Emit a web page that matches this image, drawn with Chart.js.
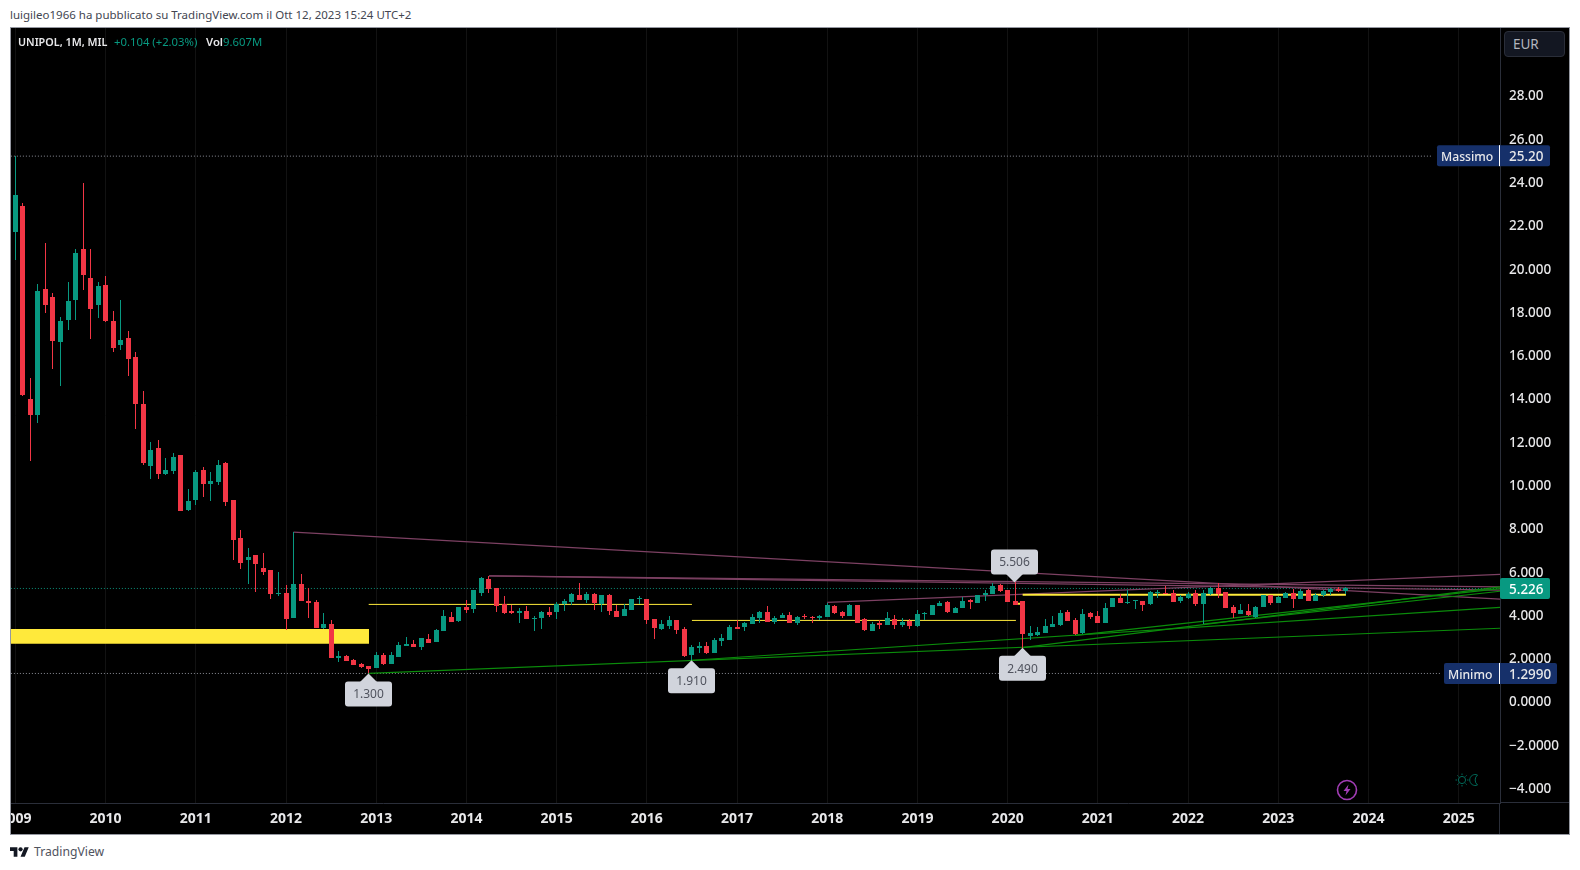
<!DOCTYPE html>
<html>
<head>
<meta charset="utf-8">
<title>UNIPOL</title>
<script src="https://cdn.jsdelivr.net/npm/chart.js@4"></script>
<style>
html, body { margin: 0; padding: 0; background: #fff; width: 1580px; height: 870px; overflow: hidden; font-family: "Noto Sans", sans-serif; }
.abs { position: absolute; white-space: nowrap; }
#frame { left: 10px; top: 27px; width: 1558px; height: 806px; border: 1px solid #9598a1; background: #000; }
#chartbox { left: 11px; top: 28px; width: 1558px; height: 806px; }
#head { left: 10px; top: 7px; font-size: 11.5px; line-height: 16px; color: #434651; }
.leg { top: 33px; font-size: 11.3px; line-height: 17px; }
#eur { left: 1504px; top: 31px; width: 61px; height: 26px; box-sizing: border-box; background: #131722; border: 1px solid #2a2e39; border-radius: 4px; color: #b2b5be; font-size: 13.5px; line-height: 25px; padding-left: 8px; }
#foot { left: 34px; top: 843px; font-size: 12.2px; line-height: 18px; color: #50535e; }
</style>
</head>
<body>
<div class="abs" id="head">luigileo1966 ha pubblicato su TradingView.com il Ott 12, 2023 15:24 UTC+2</div>
<div class="abs" id="frame"></div>
<div class="abs" id="chartbox"><canvas id="chart" width="1558" height="806"></canvas></div>
<div class="abs leg" style="left:18px;color:#e8e8ea;font-weight:600;font-size:10.8px">UNIPOL, 1M, MIL</div>
<div class="abs leg" style="left:114px;color:#089981">+0.104 (+2.03%)</div>
<div class="abs leg" style="left:206px;color:#e8e8ea;font-weight:600">Vol</div>
<div class="abs leg" style="left:223px;color:#089981">9.607M</div>
<div class="abs" id="eur">EUR</div>
<svg class="abs" style="left:1335px;top:778px" width="24" height="24" viewBox="0 0 24 24">
  <circle cx="12" cy="12" r="9.5" fill="none" stroke="#a23db5" stroke-width="1.6"/>
  <path d="M13.5 6.5 L8.5 13 H11.5 L10.5 17.5 L15.5 11 H12.5 Z" fill="#a23db5"/>
</svg>
<svg class="abs" style="left:1455px;top:773px" width="24" height="14" viewBox="0 0 24 14" fill="none" stroke="#006b5a" stroke-width="1">
  <circle cx="7" cy="7" r="3.6"/>
  <path d="M7 0.5V2M7 12V13.5M0.5 7H2M12 7H13.5M2.4 2.4L3.5 3.5M10.5 10.5L11.6 11.6M2.4 11.6L3.5 10.5M10.5 3.5L11.6 2.4"/>
  <path d="M22.5 2 A5.5 5.5 0 1 0 22.5 12 A6.5 6.5 0 0 1 22.5 2 Z"/>
</svg>
<svg class="abs" style="left:10px;top:845px" width="19" height="15" viewBox="0 0 36 28">
  <path d="M14 22H7V11H0V4h14v18zM28 22h-8l7.5-18h8L28 22z" fill="#131722"/>
  <circle cx="20" cy="8" r="4" fill="#131722"/>
</svg>
<div class="abs" id="foot">TradingView</div>
<script>
// monthly candles, first one is 2009-01, last one 2023-10
var monthlyOpen = [
    21.7, 22.9, 14.0, 13.24, 19.06, 18.69, 16.6, 17.63, 18.55, 20.9, 19.56, 18.32,
    19.24, 17.58, 16.47, 16.8, 15.92, 13.74, 10.88, 11.71, 10.51, 10.65, 11.39, 8.84,
    9.31, 10.69, 10.05, 10.14, 11.01, 9.31, 7.55, 6.53, 6.76, 6.16, 6.07, 4.96,
    5.01, 3.85, 5.43, 4.64, 4.59, 3.39, 3.58, 2.0, 2.1, 1.91, 1.73, 1.64,
    1.54, 2.14, 1.73, 2.05, 2.56, 2.65, 2.51, 2.88, 2.74, 3.25, 3.9, 3.7,
    4.36, 4.27, 5.01, 5.66, 5.24, 4.5, 4.18, 4.08, 4.18, 3.81, 3.86, 4.13,
    4.13, 4.5, 4.6, 4.92, 4.69, 4.96, 4.5, 4.92, 4.18, 3.95, 4.22, 4.73,
    4.73, 3.81, 3.34, 3.48, 3.76, 3.34, 2.14, 2.46, 2.56, 2.23, 2.79, 2.84,
    3.44, 3.44, 3.58, 3.86, 4.13, 3.67, 3.86, 4.0, 3.62, 3.95, 3.9, 3.86,
    3.9, 4.41, 4.13, 3.95, 4.46, 3.81, 3.25, 3.62, 3.53, 3.81, 3.53, 3.7,
    3.48, 4.04, 4.0, 4.41, 4.6, 4.08, 4.32, 4.69, 4.55, 4.92, 4.96, 5.38,
    5.15, 4.64, 4.64, 3.02, 3.06, 3.16, 3.44, 3.53, 4.13, 3.76, 3.16, 4.08,
    3.95, 3.62, 4.36, 4.78, 4.55, 4.64, 4.64, 4.5, 5.03, 5.01, 5.01, 4.64,
    4.78, 5.01, 4.5, 4.96, 5.24, 5.06, 4.36, 4.04, 4.18, 3.9, 4.36, 4.92,
    4.55, 4.78, 5.01, 4.73, 5.15, 4.64, 4.92, 5.06, 5.2, 5.12
];
var monthlyHigh = [
    25.2, 23.02, 14.94, 19.29, 21.19, 18.87, 17.76, 19.38, 20.9, 23.95, 20.9, 19.38,
    19.66, 18.04, 18.55, 17.11, 16.15, 14.34, 11.99, 12.08, 11.25, 11.48, 11.39, 9.81,
    10.69, 10.83, 10.6, 11.15, 11.06, 9.31, 7.92, 7.09, 6.76, 6.86, 6.07, 5.98,
    5.38, 7.83, 5.89, 5.24, 4.69, 4.08, 3.76, 2.33, 2.14, 1.96, 1.78, 1.64,
    2.28, 2.23, 2.28, 2.74, 2.98, 2.84, 2.93, 3.11, 3.34, 4.22, 4.13, 4.36,
    4.69, 5.15, 5.75, 5.8, 5.24, 4.87, 4.46, 4.32, 4.41, 3.95, 4.18, 4.36,
    4.6, 4.73, 5.01, 5.47, 5.06, 5.01, 4.92, 4.96, 4.46, 4.5, 4.73, 4.87,
    4.73, 3.81, 3.76, 3.95, 3.76, 3.44, 2.6, 2.74, 2.74, 2.93, 3.11, 3.53,
    3.76, 3.67, 4.04, 4.18, 4.41, 3.95, 4.08, 4.13, 3.95, 4.04, 3.95, 4.0,
    4.55, 4.46, 4.18, 4.5, 4.46, 3.86, 3.67, 3.76, 4.13, 4.0, 3.86, 3.81,
    4.22, 4.13, 4.46, 4.64, 4.64, 4.36, 4.82, 4.73, 4.92, 5.15, 5.47, 5.43,
    5.15, 5.506, 4.64, 3.48, 3.44, 3.81, 3.95, 4.22, 4.22, 3.86, 4.27, 4.13,
    4.18, 4.55, 4.78, 4.96, 5.15, 4.69, 4.64, 5.1, 5.15, 5.33, 5.15, 4.92,
    5.06, 5.15, 5.15, 5.29, 5.47, 5.06, 4.46, 4.5, 4.5, 4.41, 4.92, 4.92,
    4.87, 5.06, 5.2, 5.2, 5.2, 5.01, 5.15, 5.24, 5.29, 5.29
];
var monthlyLow = [
    20.4, 14.1, 11.1, 12.87, 17.95, 15.36, 14.57, 17.16, 17.63, 19.0, 16.75, 17.72,
    17.53, 16.15, 16.24, 15.04, 12.59, 10.92, 10.28, 10.28, 10.46, 10.51, 8.8, 8.8,
    9.08, 9.45, 9.26, 10.0, 9.03, 6.53, 6.12, 5.42, 5.05, 5.84, 4.73, 4.87,
    3.3, 3.85, 4.64, 3.85, 3.39, 3.34, 2.0, 1.83, 1.87, 1.68, 1.55, 1.3,
    1.54, 1.68, 1.73, 2.05, 2.56, 2.51, 2.37, 2.7, 2.74, 3.25, 3.67, 3.67,
    4.08, 4.08, 4.87, 5.01, 4.13, 4.04, 4.04, 3.62, 3.81, 3.25, 3.34, 3.9,
    3.81, 4.18, 4.46, 4.69, 4.55, 4.22, 4.13, 4.0, 3.9, 3.95, 4.22, 4.5,
    3.58, 2.88, 3.3, 3.34, 3.11, 2.05, 1.91, 2.23, 2.19, 2.23, 2.56, 2.84,
    3.34, 3.25, 3.58, 3.62, 3.67, 3.58, 3.86, 3.62, 3.53, 3.81, 3.62, 3.76,
    3.9, 4.04, 3.86, 3.95, 3.62, 3.25, 3.25, 3.34, 3.53, 3.34, 3.44, 3.34,
    3.44, 3.76, 4.0, 4.41, 4.08, 4.08, 4.32, 4.27, 4.55, 4.64, 4.96, 5.06,
    4.6, 4.46, 2.49, 2.84, 3.02, 3.16, 3.44, 3.48, 3.72, 3.06, 3.11, 3.81,
    3.62, 3.62, 4.36, 4.55, 4.5, 4.27, 4.18, 4.46, 4.78, 4.96, 4.6, 4.55,
    4.73, 4.41, 3.58, 4.92, 4.78, 4.32, 3.86, 4.04, 3.95, 3.86, 4.36, 4.46,
    4.55, 4.78, 4.32, 4.73, 4.64, 4.64, 4.82, 4.92, 5.06, 4.96
];
var monthlyClose = [
    23.4, 14.15, 13.26, 18.97, 18.32, 16.65, 17.58, 18.5, 20.72, 19.7, 18.13, 19.2,
    17.58, 16.33, 16.7, 15.82, 13.74, 11.01, 11.62, 10.51, 10.69, 11.29, 8.8, 9.26,
    10.6, 10.05, 10.19, 10.92, 9.21, 7.46, 6.4, 6.67, 6.35, 5.98, 4.96, 5.01,
    3.81, 5.43, 4.64, 4.55, 3.39, 3.58, 2.0, 2.1, 1.87, 1.68, 1.59, 1.5,
    2.14, 1.73, 2.14, 2.6, 2.65, 2.51, 2.93, 2.7, 3.3, 3.95, 3.67, 4.36,
    4.22, 5.15, 5.7, 5.2, 4.41, 4.08, 4.08, 4.18, 3.81, 3.86, 4.13, 4.0,
    4.5, 4.64, 4.96, 4.69, 4.96, 4.55, 4.92, 4.18, 3.9, 4.27, 4.73, 4.78,
    3.76, 3.39, 3.58, 3.76, 3.3, 2.1, 2.51, 2.56, 2.23, 2.84, 2.93, 3.44,
    3.34, 3.62, 3.9, 4.13, 3.67, 3.86, 4.0, 3.62, 3.9, 3.9, 3.86, 3.95,
    4.46, 4.08, 3.95, 4.46, 3.62, 3.3, 3.58, 3.53, 3.86, 3.53, 3.67, 3.48,
    4.04, 4.08, 4.46, 4.55, 4.13, 4.32, 4.64, 4.6, 4.92, 5.01, 5.33, 5.1,
    4.6, 4.46, 3.11, 3.16, 3.2, 3.48, 3.58, 4.08, 3.72, 3.11, 4.04, 3.9,
    3.62, 4.32, 4.78, 4.55, 4.6, 4.69, 4.46, 5.06, 5.08, 4.96, 4.6, 4.82,
    4.96, 4.5, 5.01, 5.24, 4.96, 4.32, 4.08, 4.22, 4.0, 4.36, 4.92, 4.55,
    4.82, 5.01, 4.73, 5.1, 4.64, 4.92, 5.1, 5.2, 5.1, 5.226
];

var yearLabels = ["2009", "2010", "2011", "2012", "2013", "2014", "2015", "2016", "2017", "2018", "2019", "2020", "2021", "2022", "2023", "2024", "2025"];
var priceTicks = [28, 26, 24, 22, 20, 18, 16, 14, 12, 10, 8, 6, 4, 2, 0, -2, -4];
var priceLabels = ["28.00", "26.00", "24.00", "22.00", "20.000", "18.000", "16.000", "14.000", "12.000", "10.000", "8.000", "6.000", "4.000", "2.0000", "0.0000", "\u22122.0000", "\u22124.000"];

// drawings as month index / price pairs: [fromMonth, fromPrice, toMonth, toPrice]
var pinkLines = [
    [37, 7.83, 197.6, 4.73],
    [63, 5.81, 197.6, 5.15],
    [63, 5.81, 197.6, 5.30],
    [108, 4.58, 197.6, 5.88]
];
var greenLines = [
    [47, 1.30, 197.6, 3.39],
    [90, 1.91, 197.6, 4.35],
    [134, 2.49, 197.6, 5.30],
    [141, 3.06, 197.6, 5.22],
    [158, 3.58, 197.6, 5.10]
];
var yellowLines = [
    [47, 4.49, 90, 4.49, 1],
    [90, 3.75, 133.1, 3.75, 1],
    [133, 4.52, 134, 4.52, 2],
    [134, 4.93, 177, 4.93, 2]
];
var zoneMonths = [-1, 47.04];
var zoneTop = 3.35;
var zoneBottom = 2.67;

var calloutMonths = [47, 90, 134, 133];
var calloutPrices = [1.30, 1.91, 2.49, 5.506];
var calloutTexts = ["1.300", "1.910", "2.490", "5.506"];
var calloutBelow = [true, true, true, false];

var highPrice = 25.2;
var lowPrice = 1.299;
var lastPrice = 5.226;

const UP = "#089981";
const DOWN = "#f23645";

function segment(line, color, width, order) {
    return {
        type: "line",
        data: [{ x: line[0], y: line[1] }, { x: line[2], y: line[3] }],
        borderColor: color,
        borderWidth: width,
        pointRadius: 0,
        order: order
    };
}

function levelLine(price, toMonth, color) {
    let d = segment([-1, price, toMonth, price], color, 1, 12);
    d.borderDash = [1, 2];
    return d;
}

function candleSets() {
    let wicks = [], bodies = [], colors = [];
    for (let i = 0; i < monthlyOpen.length; i++) {
        wicks.push({ x: i, y: [monthlyLow[i], monthlyHigh[i]] });
        bodies.push({ x: i, y: [monthlyOpen[i], monthlyClose[i]] });
        colors.push(monthlyClose[i] >= monthlyOpen[i] ? UP : DOWN);
    }
    return [
        { type: "bar", data: wicks, backgroundColor: colors, barThickness: 1, grouped: false, inflateAmount: 0, borderWidth: 0, order: 2 },
        { type: "bar", data: bodies, backgroundColor: colors, barThickness: 5, grouped: false, inflateAmount: 0, borderWidth: 0, minBarLength: 1, order: 1 }
    ];
}

// snap the bars on whole pixels, the candles stay crisp that way
const snapBars = {
    id: "snapBars",
    afterDatasetsUpdate(chart) {
        chart.getSortedVisibleDatasetMetas().forEach((meta) => {
            if (meta.type != "bar") return;
            meta.data.forEach((el) => {
                el.x = Math.floor(el.x) + 0.5;
                el.y = Math.round(el.y);
                el.base = Math.round(el.base);
                if (el.y == el.base) el.base = el.y + 1;
            });
        });
    },
    // price labels sit a pixel lower than the tick
    beforeDraw(chart) {
        chart.scales.y.getLabelItems(chart.chartArea).forEach((item) => {
            if (item.moved) return;
            item.options.translation[1] += 1;
            item.moved = true;
        });
    }
};

function priceTag(ctx, left, right, y, bg, name, value, textColor) {
    ctx.fillStyle = bg;
    ctx.beginPath();
    ctx.roundRect(left, y - 10.5, right - left, 21, 2);
    ctx.fill();
    ctx.textBaseline = "middle";
    ctx.textAlign = "left";
    ctx.fillStyle = textColor;
    if (name) {
        ctx.font = "500 12.2px 'Noto Sans'";
        ctx.fillText(name, left + 4, y + 2);
        ctx.fillStyle = "#fff";
        ctx.fillRect(1488, y - 10.5, 1, 21);
    }
    ctx.font = "500 13.5px 'Noto Sans'";
    ctx.fillStyle = textColor;
    ctx.fillText(value, 1498, y + 2);
}

const overlays = {
    id: "overlays",
    afterDatasetsDraw(chart) {
        let ctx = chart.ctx, xs = chart.scales.x, ys = chart.scales.y;
        ctx.save();
        // value callouts
        for (let i = 0; i < calloutMonths.length; i++) {
            let px = Math.round(xs.getPixelForValue(calloutMonths[i])) - 0.5;
            let py = ys.getPixelForValue(calloutPrices[i]);
            let dir = calloutBelow[i] ? 1 : -1;
            let near = py + dir * 8;
            let far = py + dir * 33;
            ctx.fillStyle = "#d1d4dc";
            ctx.beginPath();
            ctx.roundRect(px - 23.5, Math.min(near, far), 47, 25, 3);
            ctx.fill();
            ctx.beginPath();
            ctx.moveTo(px, py);
            ctx.lineTo(px - 9, near + dir);
            ctx.lineTo(px + 9, near + dir);
            ctx.closePath();
            ctx.fill();
            ctx.fillStyle = "#50535e";
            ctx.font = "12px 'Noto Sans'";
            ctx.textAlign = "center";
            ctx.textBaseline = "middle";
            ctx.fillText(calloutTexts[i], px, (near + far) / 2 + 1);
        }
        // axis tags
        priceTag(ctx, 1426, 1539, ys.getPixelForValue(highPrice) - 0.5, "#16306a", "Massimo", "25.20", "#e8e8ea");
        priceTag(ctx, 1433, 1546, ys.getPixelForValue(lowPrice), "#16306a", "Minimo", "1.2990", "#e8e8ea");
        priceTag(ctx, 1489, 1539, ys.getPixelForValue(lastPrice), UP, "", "5.226", "#fff");
        // axis rules reach the frame
        ctx.fillStyle = "#2a2e39";
        ctx.fillRect(chart.chartArea.right, chart.chartArea.bottom - 1, chart.width - chart.chartArea.right, 1);
        ctx.fillRect(chart.chartArea.right - 1, chart.chartArea.bottom, 1, chart.height - chart.chartArea.bottom);
        ctx.restore();
    }
};

var datasets = [];
datasets.push({
    type: "line",
    data: [{ x: zoneMonths[0], y: zoneTop }, { x: zoneMonths[1], y: zoneTop }],
    borderWidth: 0,
    pointRadius: 0,
    backgroundColor: "#ffe93b",
    fill: { value: zoneBottom },
    order: 20
});
datasets.push(levelLine(highPrice, 188.5, "#8a8d96"));
datasets.push(levelLine(lowPrice, 189.5, "#8a8d96"));
datasets.push(levelLine(lastPrice, 197.6, "#0b8f79"));
pinkLines.forEach((l) => datasets.push(segment(l, "#7d4163", 1.2, 10)));
greenLines.forEach((l) => datasets.push(segment(l, "#0b8c0b", 1.2, 9)));
yellowLines.forEach((l) => datasets.push(segment(l, "#ffeb3b", l[4], 8)));
candleSets().forEach((d) => datasets.push(d));

const chart = new Chart(document.getElementById("chart"), {
    data: { datasets: datasets },
    plugins: [snapBars, overlays],
    options: {
        responsive: false,
        animation: false,
        layout: { padding: 0 },
        plugins: { legend: { display: false }, tooltip: { enabled: false } },
        scales: {
            x: {
                type: "linear",
                offset: false,
                min: -0.585,
                max: 197.5,
                border: { color: "#2a2e39" },
                grid: { color: "#121212", drawTicks: false, offset: false },
                afterBuildTicks(scale) {
                    scale.ticks = yearLabels.map((y, i) => ({ value: i * 12 }));
                },
                afterFit(scale) {
                    scale.height = 31;
                    scale.paddingLeft = 0;
                    scale.paddingRight = 0;
                },
                ticks: {
                    autoSkip: false,
                    maxRotation: 0,
                    padding: 8,
                    color: "#e8e8ea",
                    font: { family: "Noto Sans", size: 14, weight: "bold" },
                    callback: (v) => yearLabels[v / 12]
                }
            },
            y: {
                type: "linear",
                position: "right",
                min: -4.686,
                max: 31.12,
                border: { color: "#2a2e39" },
                grid: { display: false, drawTicks: false },
                afterBuildTicks(scale) {
                    scale.ticks = priceTicks.map((v) => ({ value: v }));
                },
                afterFit(scale) {
                    scale.width = 69;
                    scale.paddingTop = 0;
                    scale.paddingBottom = 0;
                },
                ticks: {
                    autoSkip: false,
                    padding: 9,
                    color: "#e8e8ea",
                    font: { family: "Noto Sans", size: 13.5, weight: "500" },
                    callback: (v) => priceLabels[priceTicks.indexOf(v)]
                }
            }
        }
    }
});
</script>
</body>
</html>
